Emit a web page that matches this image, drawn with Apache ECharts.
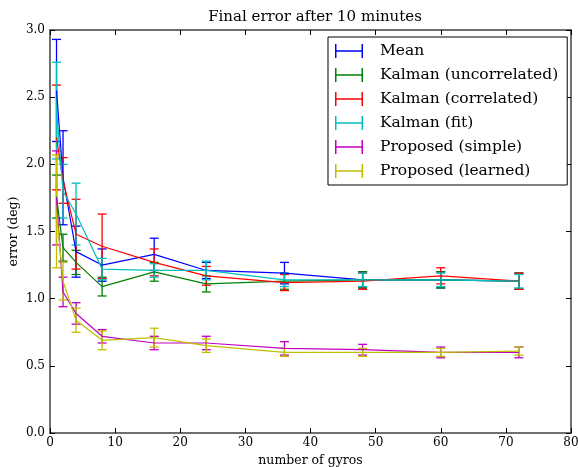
<!DOCTYPE html>
<html>
<head>
<meta charset="utf-8">
<script src="https://cdn.jsdelivr.net/npm/echarts@6/dist/echarts.min.js"></script>
<style>
  html, body { margin: 0; padding: 0; background: #fff; }
  #chart { width: 578px; height: 467px; }
</style>
</head>
<body>
<div id="chart"></div>
<script>
// number of gyros
var gyros = [1, 2, 4, 8, 16, 24, 36, 48, 60, 72];

var names = ['Mean', 'Kalman (uncorrelated)', 'Kalman (correlated)', 'Kalman (fit)', 'Proposed (simple)', 'Proposed (learned)'];
var colors = ['#0000ff', '#008000', '#ff0000', '#00bfbf', '#bf00bf', '#bfbf00'];

// mean error (deg) and error bar half-height per series
var meanVals = [2.55, 1.90, 1.35, 1.25, 1.33, 1.21, 1.19, 1.14, 1.14, 1.13];
var meanErr = [0.38, 0.35, 0.19, 0.12, 0.12, 0.06, 0.08, 0.06, 0.06, 0.06];

var uncorrVals = [1.76, 1.38, 1.27, 1.09, 1.20, 1.11, 1.13, 1.14, 1.14, 1.13];
var uncorrErr = [0.16, 0.10, 0.09, 0.07, 0.07, 0.06, 0.06, 0.06, 0.06, 0.06];

var corrVals = [2.20, 1.88, 1.48, 1.39, 1.27, 1.17, 1.12, 1.13, 1.17, 1.13];
var corrErr = [0.39, 0.17, 0.26, 0.24, 0.10, 0.07, 0.06, 0.06, 0.06, 0.06];

var fitVals = [2.40, 1.80, 1.63, 1.22, 1.21, 1.21, 1.14, 1.14, 1.14, 1.13];
var fitErr = [0.36, 0.20, 0.23, 0.08, 0.05, 0.07, 0.05, 0.05, 0.05, 0.05];

var simpleVals = [1.75, 1.05, 0.89, 0.72, 0.67, 0.67, 0.63, 0.62, 0.60, 0.60];
var simpleErr = [0.35, 0.11, 0.08, 0.05, 0.05, 0.05, 0.05, 0.04, 0.04, 0.04];

var learnedVals = [1.65, 1.13, 0.84, 0.69, 0.71, 0.65, 0.60, 0.60, 0.60, 0.61];
var learnedErr = [0.42, 0.14, 0.09, 0.07, 0.07, 0.05, 0.03, 0.03, 0.03, 0.03];

var allVals = [meanVals, uncorrVals, corrVals, fitVals, simpleVals, learnedVals];
var allErr = [meanErr, uncorrErr, corrErr, fitErr, simpleErr, learnedErr];

var font = 'DejaVu Serif';
var frameColor = '#404040';

function errRender(color) {
    return function (params, api) {
        var x = api.value(0);
        var top = api.coord([x, api.value(2)]);
        var bot = api.coord([x, api.value(1)]);
        var w = 4.5;
        var st = { stroke: color, lineWidth: 1.3 };
        return {
            type: 'group',
            children: [
                { type: 'line', shape: { x1: top[0], y1: top[1], x2: bot[0], y2: bot[1] }, style: st },
                { type: 'line', shape: { x1: top[0] - w, y1: top[1], x2: top[0] + w, y2: top[1] }, style: st },
                { type: 'line', shape: { x1: bot[0] - w, y1: bot[1], x2: bot[0] + w, y2: bot[1] }, style: st }
            ]
        };
    };
}

var series = [];
for (var i = 0; i < names.length; i++) {
    var lineData = [], barData = [];
    for (var j = 0; j < gyros.length; j++) {
        lineData.push([gyros[j], allVals[i][j]]);
        barData.push([gyros[j], allVals[i][j] - allErr[i][j], allVals[i][j] + allErr[i][j]]);
    }
    series.push({
        name: names[i],
        type: 'line',
        data: lineData,
        symbol: 'none',
        color: colors[i],
        lineStyle: { color: colors[i], width: 1.2 },
        animation: false
    });
    series.push({
        name: names[i],
        type: 'custom',
        data: barData,
        encode: { x: 0, y: [1, 2] },
        renderItem: errRender(colors[i]),
        animation: false
    });
}

var errIcon = 'path://M0,0h1.5v14h-1.5z M0,6.3h28v1.4h-28z M26.5,0h1.5v14h-1.5z';

function axisCommon() {
    return {
        axisLine: { onZero: false, lineStyle: { color: frameColor, width: 1.5 } },
        axisTick: { inside: true, length: 5, lineStyle: { color: '#000', width: 1 } },
        splitLine: { show: false }
    };
}

var myC = echarts.init(document.getElementById('chart'));
myC.setOption({
    backgroundColor: '#fff',
    animation: false,
    title: {
        text: 'Final error after 10 minutes',
        left: 310,
        top: 5,
        textAlign: 'center',
        textStyle: { fontFamily: font, fontSize: 15, fontWeight: 'normal', color: '#000' }
    },
    grid: { left: 50, right: 7, top: 30, bottom: 34, outerBoundsMode: 'none', containLabel: false },
    legend: {
        orient: 'vertical',
        left: 328,
        top: 37,
        padding: [6, 9, 6, 7],
        itemWidth: 28,
        itemHeight: 14,
        itemGap: 8,
        borderColor: '#000',
        borderWidth: 1,
        backgroundColor: '#fff',
        textStyle: { fontFamily: font, fontSize: 15.5, lineHeight: 16, color: '#000', padding: [0, 0, 0, 12] },
        data: names.map(function (n) { return { name: n, icon: errIcon }; })
    },
    xAxis: [
        Object.assign(axisCommon(), {
            type: 'value', min: 0, max: 80, interval: 10,
            name: 'number of gyros', nameLocation: 'middle', nameGap: 21,
            nameMoveOverlap: false,
            nameTextStyle: { fontFamily: font, fontSize: 12.5, color: '#000' },
            axisLabel: { fontFamily: font, fontSize: 12, color: '#000', margin: 4 }
        }),
        Object.assign(axisCommon(), {
            type: 'value', min: 0, max: 80, interval: 10, position: 'top',
            axisLabel: { show: false }
        })
    ],
    yAxis: [
        Object.assign(axisCommon(), {
            type: 'value', min: 0, max: 3, interval: 0.5,
            name: 'error (deg)', nameLocation: 'middle', nameGap: 30,
            nameMoveOverlap: false,
            nameTextStyle: { fontFamily: font, fontSize: 12.5, color: '#000' },
            axisLabel: {
                fontFamily: font, fontSize: 12, color: '#000', margin: 5,
                formatter: function (v) { return v.toFixed(1); }
            }
        }),
        Object.assign(axisCommon(), {
            type: 'value', min: 0, max: 3, interval: 0.5, position: 'right',
            axisLabel: { show: false }
        })
    ],
    series: series
});
</script>
</body>
</html>
